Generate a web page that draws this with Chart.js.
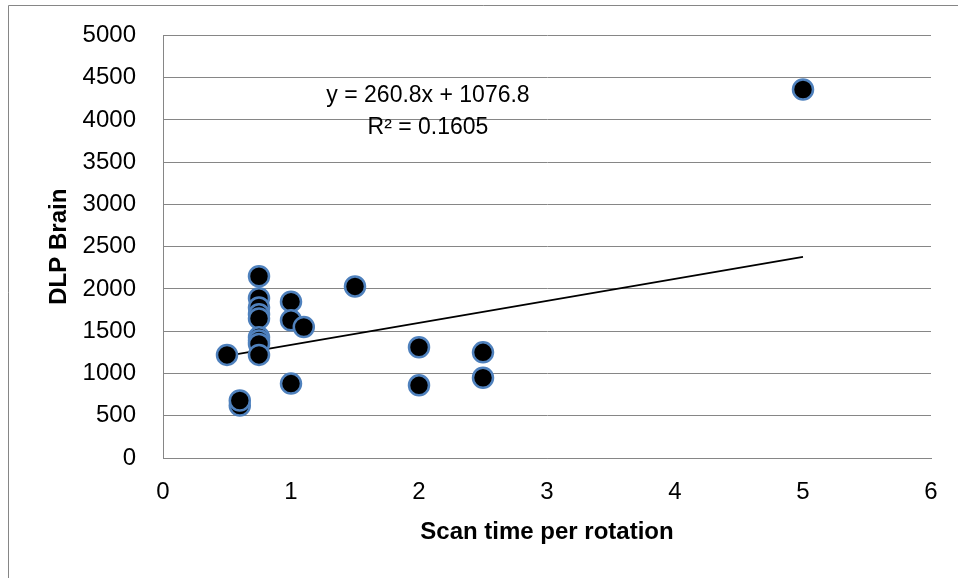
<!DOCTYPE html>
<html>
<head>
<meta charset="utf-8">
<script src="https://cdn.jsdelivr.net/npm/chart.js@4"></script>
<style>
  html, body { margin: 0; padding: 0; background: #fff; overflow: hidden; }
  #page { width: 958px; height: 578px; position: relative; overflow: hidden; }
  #wrap { width: 958px; height: 584px; position: absolute; left: 0; top: -6px; }
</style>
</head>
<body>
<div id="page"><div id="wrap"><canvas id="scanChart"></canvas></div></div>
<script>
// scan time per rotation (s) vs DLP brain
const scanTime = [0.5, 0.6, 0.6, 0.75, 0.75, 0.75, 0.75, 0.75, 0.75, 0.75, 0.75, 0.75,
                  1, 1, 1, 1.1, 1.5, 2, 2, 2.5, 2.5, 5];
const dlpBrain = [1220, 620, 680, 2150, 1890, 1780, 1700, 1650, 1430, 1390, 1350, 1220,
                  1850, 1630, 880, 1550, 2030, 1310, 860, 1250, 950, 4360];
// linear trendline from the chart
const trendSlope = 260.8;
const trendIntercept = 1076.8;
const trendRange = [0.5, 5];
const trendLabel = 'y = 260.8x + 1076.8';
const r2Label = 'R² = 0.1605';

const points = scanTime.map((t, i) => ({ x: t, y: dlpBrain[i] }));
const trend = trendRange.map(t => ({ x: t, y: trendSlope * t + trendIntercept }));

const FONT = '"Liberation Sans", Arial, sans-serif';
const GRID = '#868686';
const OFFSET = 6; // canvas is shifted up by this much

const frame = {
  id: 'frame',
  beforeDraw(chart) {
    const c = chart.ctx;
    c.save();
    c.fillStyle = '#fff';
    c.fillRect(0, 0, chart.width, chart.height);
    c.strokeStyle = GRID;
    c.lineWidth = 1;
    c.beginPath();
    c.moveTo(8.5, chart.height + 2);
    c.lineTo(8.5, 5.5 + OFFSET);
    c.lineTo(chart.width + 2, 5.5 + OFFSET);
    c.stroke();
    c.restore();
  },
  afterDraw(chart) {
    const c = chart.ctx;
    c.save();
    c.fillStyle = '#000';
    c.font = '23px ' + FONT;
    c.textAlign = 'center';
    c.textBaseline = 'middle';
    c.fillText(trendLabel, 428, 96 + OFFSET);
    c.fillText(r2Label, 428, 128 + OFFSET);
    c.restore();
  }
};

new Chart(document.getElementById('scanChart'), {
  type: 'scatter',
  data: {
    datasets: [{
      label: 'DLP Brain',
      data: points,
      backgroundColor: '#000',
      borderColor: '#4F81BD',
      borderWidth: 2.5,
      pointRadius: 10,
      pointHoverRadius: 10,
      order: 1
    }, {
      type: 'line',
      label: 'Linear',
      data: trend,
      borderColor: '#000',
      borderWidth: 1.8,
      pointRadius: 0,
      fill: false,
      order: 2
    }]
  },
  options: {
    responsive: true,
    maintainAspectRatio: false,
    animation: false,
    layout: { autoPadding: false, padding: { left: 41, top: 29, right: 27, bottom: 27 } },
    plugins: { legend: { display: false }, tooltip: { enabled: false } },
    scales: {
      x: {
        type: 'linear',
        min: 0, max: 6,
        ticks: { stepSize: 1, color: '#000', font: { family: FONT, size: 24 }, padding: 20,
                 callback: v => String(v) },
        grid: { display: false, drawTicks: false },
        border: { display: true, color: GRID, width: 1 },
        title: { display: true, text: 'Scan time per rotation', color: '#000',
                 font: { family: FONT, size: 24, weight: 'bold' }, padding: { top: 4, bottom: 4 } },
        afterFit(s) { s.height = 93; }
      },
      y: {
        min: 0, max: 5000,
        ticks: { stepSize: 500, color: '#000', font: { family: FONT, size: 24 }, padding: 27,
                 callback: v => String(v) },
        grid: { color: GRID, lineWidth: 1, drawTicks: false },
        border: { display: true, color: GRID, width: 1 },
        title: { display: true, text: 'DLP Brain', color: '#000',
                 font: { family: FONT, size: 24, weight: 'bold' }, padding: { top: 4, bottom: 4 } },
        afterFit(s) { s.width = 122; }
      }
    }
  },
  plugins: [frame]
});
</script>
</body>
</html>
